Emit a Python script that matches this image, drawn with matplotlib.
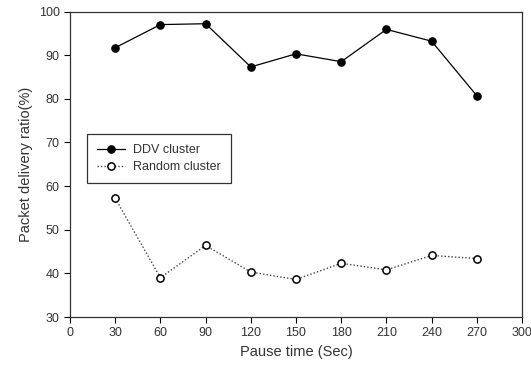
import numpy as np
import matplotlib
matplotlib.use("Agg")
import matplotlib.pyplot as plt

pause_time = [30, 60, 90, 120, 150, 180, 210, 240, 270]
ddv_cluster = [91.7, 97.0, 97.2, 87.3, 90.3, 88.5, 95.9, 93.2, 80.7]
random_cluster = [57.2, 39.0, 46.4, 40.3, 38.6, 42.3, 40.8, 44.1, 43.4]

plt.rcParams['font.family'] = ['Liberation Sans', 'DejaVu Sans']

fig = plt.figure(figsize=(5.31, 3.69), dpi=100)
ax = fig.add_axes([70/531, 1 - 317/369, 452/531, 305.5/369])

ax.plot(pause_time, ddv_cluster, color="black", lw=0.9, marker="o",
        markersize=5.2, markerfacecolor="black", label="DDV cluster")
ax.plot(pause_time, random_cluster, color="#444444", lw=1.0, ls=(0, (1, 1.5)),
        marker="o", markersize=5.2, markerfacecolor="white",
        markeredgecolor="black", markeredgewidth=1.1, label="Random cluster")

ax.set_xlim(0, 300)
ax.set_ylim(30, 100)
ax.set_xticks(np.arange(0, 301, 30))
ax.set_yticks(np.arange(30, 101, 10))
ax.tick_params(direction="out", length=4, width=0.8, labelsize=9,
               labelcolor="#333333", top=False, right=False)
for s in ax.spines.values():
    s.set_linewidth(0.9)
    s.set_color("#333333")

ax.set_xlabel("Pause time (Sec)", fontsize=10.5, color="#333333")
ax.set_ylabel("Packet delivery ratio(%)", fontsize=10.5, color="#333333")

leg = ax.legend(loc="upper left", bbox_to_anchor=(17/452, 1 - (134 - 11.5)/305.5),
                frameon=True, fancybox=False, edgecolor="black", fontsize=9,
                handlelength=2.2, handletextpad=0.7, borderpad=0.8,
                labelspacing=0.4, borderaxespad=0)
leg.get_frame().set_linewidth(0.9)
for t in leg.get_texts():
    t.set_color("#333333")

fig.savefig("out.png", dpi=100)
